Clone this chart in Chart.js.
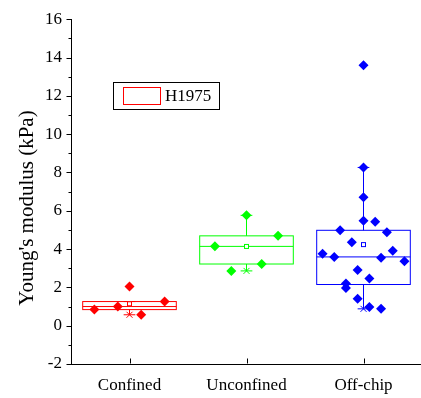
<!DOCTYPE html>
<html>
<head>
<meta charset="utf-8">
<style>
  html, body { margin: 0; padding: 0; overflow: hidden; background: #fff; }
  #wrap { width: 427px; height: 398px; }
</style>
<script src="https://cdn.jsdelivr.net/npm/chart.js@4/dist/chart.umd.min.js"></script>
</head>
<body>
<div id="wrap"><canvas id="chart" width="427" height="398"></canvas></div>
<script>
// Young's modulus measurements per culture condition
const categories = ['Confined', 'Unconfined', 'Off-chip'];
const seriesName = 'H1975';
const yTickValues = [-2, 0, 2, 4, 6, 8, 10, 12, 14, 16];

const confinedValues   = [2.05, 0.84, 1.00, 1.26, 0.57];
const confinedJitter   = [0.00, -0.30, -0.10, 0.30, 0.10];

const unconfinedValues = [5.76, 4.69, 4.15, 3.22, 2.86];
const unconfinedJitter = [0.00, 0.27, -0.27, 0.13, -0.13];

const offChipValues = [13.6, 8.26, 6.70, 5.48, 5.43, 4.98, 4.88, 4.35, 3.91, 3.76,
                       3.59, 3.55, 3.36, 2.91, 2.46, 2.20, 1.97, 1.41, 0.98, 0.88];
const offChipJitter = [0.00, 0.00, 0.00, 0.00, 0.10, -0.20, 0.20, -0.10, 0.25, -0.35,
                       -0.25, 0.15, 0.35, -0.05, 0.05, -0.15, -0.15, -0.05, 0.05, 0.15];

// box statistics (25th / 50th / 75th percentiles, whisker ends)
const boxQ1       = [0.84, 3.22, 2.15];
const boxMedian   = [1.00, 4.14, 3.59];
const boxQ3       = [1.26, 4.69, 4.98];
const whiskerLow  = [0.57, 2.86, 0.88];
const whiskerHigh = [1.26, 5.76, 8.26];

const colors = ['#ff0000', '#00ff00', '#0000ff'];
const groupValues = [confinedValues, unconfinedValues, offChipValues];
const groupJitter = [confinedJitter, unconfinedJitter, offChipJitter];

const FONT = "'Liberation Serif', 'Times New Roman', serif";

const datasets = groupValues.map((vals, i) => ({
  type: 'scatter',
  label: categories[i],
  data: vals.map((v, k) => ({ x: i + 1 + groupJitter[i][k], y: v })),
  pointStyle: 'rectRot',
  pointRadius: 5,
  pointHoverRadius: 5,
  backgroundColor: colors[i],
  borderColor: colors[i],
  borderWidth: 0
}));

const boxPlugin = {
  id: 'boxes',
  beforeDatasetsDraw(chart) {
    const { ctx, scales: { x, y } } = chart;
    const halfBox = 0.4, halfCap = 0.05;
    ctx.save();
    ctx.lineWidth = 1;
    categories.forEach((c, i) => {
      const cx = i + 1;
      const px = v => x.getPixelForValue(v);
      const py = v => y.getPixelForValue(v);
      const col = colors[i];
      ctx.strokeStyle = col;
      // box
      const l = px(cx - halfBox), r = px(cx + halfBox);
      ctx.strokeRect(l, py(boxQ3[i]), r - l, py(boxQ1[i]) - py(boxQ3[i]));
      // median
      ctx.beginPath();
      ctx.moveTo(l, py(boxMedian[i])); ctx.lineTo(r, py(boxMedian[i]));
      // whiskers
      const mx = px(cx);
      ctx.moveTo(mx, py(boxQ3[i])); ctx.lineTo(mx, py(whiskerHigh[i]));
      ctx.moveTo(mx, py(boxQ1[i])); ctx.lineTo(mx, py(whiskerLow[i]));
      const cl = px(cx - halfCap), cr = px(cx + halfCap);
      ctx.moveTo(cl, py(whiskerHigh[i])); ctx.lineTo(cr, py(whiskerHigh[i]));
      ctx.moveTo(cl, py(whiskerLow[i])); ctx.lineTo(cr, py(whiskerLow[i]));
      ctx.stroke();
      // minimum cross
      const vals = groupValues[i];
      const yy = py(Math.min(...vals));
      ctx.beginPath();
      ctx.moveTo(mx - 3, yy - 3); ctx.lineTo(mx + 3, yy + 3);
      ctx.moveTo(mx + 3, yy - 3); ctx.lineTo(mx - 3, yy + 3);
      ctx.stroke();
      // mean marker
      const mean = vals.reduce((a, b) => a + b, 0) / vals.length;
      ctx.fillStyle = '#fff';
      ctx.fillRect(mx - 2, py(mean) - 2, 4, 4);
      ctx.strokeRect(mx - 2, py(mean) - 2, 4, 4);
    });
    ctx.restore();
  },
  afterDraw(chart) {
    const { ctx, scales: { x, y }, chartArea } = chart;
    ctx.save();
    ctx.strokeStyle = '#000';
    ctx.lineWidth = 1;
    // y ticks (outward): major every 2, minor between
    const left = Math.round(chartArea.left) + 0.5;
    ctx.beginPath();
    for (let v = y.min; v <= y.max; v += 1) {
      const yy = Math.round(y.getPixelForValue(v)) + 0.5;
      const len = (v % 2 === 0) ? 5 : 3;
      ctx.moveTo(left - len, yy); ctx.lineTo(left, yy);
    }
    // x ticks (inward)
    const bottom = Math.round(chartArea.bottom) - 0.5;
    categories.forEach((c, i) => {
      const xx = Math.round(x.getPixelForValue(i + 1)) + 0.5;
      ctx.moveTo(xx, bottom); ctx.lineTo(xx, bottom - 5);
    });
    ctx.stroke();

    // y axis title
    ctx.fillStyle = '#000';
    ctx.font = '21px ' + FONT;
    ctx.textAlign = 'center';
    ctx.textBaseline = 'middle';
    ctx.translate(27, 208);
    ctx.rotate(-Math.PI / 2);
    ctx.fillText("Young's modulus (kPa)", 0, 0);
    ctx.restore();

    // legend
    ctx.save();
    ctx.lineWidth = 1;
    ctx.strokeStyle = '#000';
    ctx.strokeRect(113.5, 82.5, 106, 27);
    ctx.strokeStyle = colors[0];
    ctx.strokeRect(123.5, 87.5, 37, 17);
    ctx.fillStyle = '#000';
    ctx.font = '17px ' + FONT;
    ctx.textAlign = 'left';
    ctx.textBaseline = 'middle';
    ctx.fillText(seriesName, 165, 97);
    ctx.restore();
  }
};

new Chart(document.getElementById('chart'), {
  type: 'scatter',
  data: { datasets },
  options: {
    responsive: false,
    animation: false,
    devicePixelRatio: 1,
    layout: { padding: { top: 15, right: 0, left: 0, bottom: 0 } },
    plugins: { legend: { display: false }, tooltip: { enabled: false } },
    scales: {
      x: {
        type: 'linear',
        min: 0.5, max: 3.5,
        afterBuildTicks: s => { s.ticks = categories.map((c, i) => ({ value: i + 1 })); },
        afterFit: s => { s.height = 34; },
        ticks: {
          callback: v => categories[Math.round(v) - 1],
          color: '#000',
          font: { family: FONT, size: 17 },
          padding: 11,
          maxRotation: 0,
          autoSkip: false
        },
        grid: { display: true, drawOnChartArea: false, drawTicks: false },
        border: { display: true, color: '#000', width: 1 }
      },
      y: {
        min: -2, max: 16,
        afterBuildTicks: s => { s.ticks = yTickValues.map(v => ({ value: v })); },
        afterFit: s => { s.width = 71; },
        ticks: {
          color: '#000',
          font: { family: FONT, size: 17 },
          padding: 9
        },
        grid: { display: true, drawOnChartArea: false, drawTicks: false },
        border: { display: true, color: '#000', width: 1 }
      }
    }
  },
  plugins: [boxPlugin]
});
</script>
</body>
</html>
